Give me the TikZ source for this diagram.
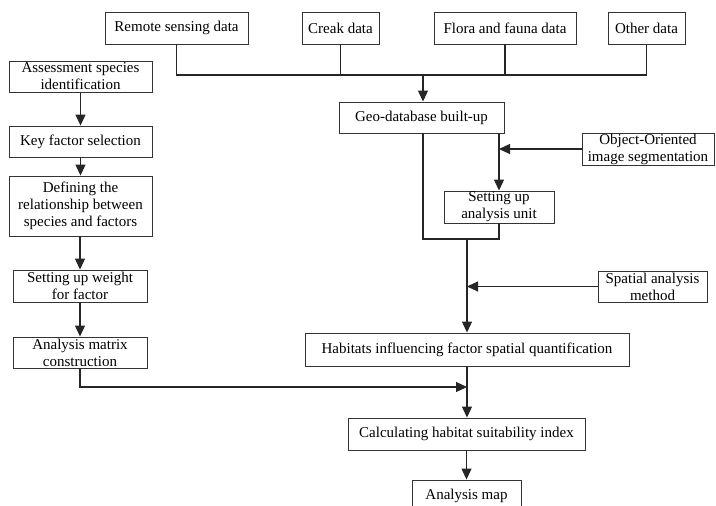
\documentclass[tikz,border=0pt]{standalone}
\usepackage{fontspec}
\setmainfont{Liberation Serif}
\usetikzlibrary{arrows.meta,shadows}
\begin{document}
\begin{tikzpicture}[x=1pt,y=-1pt,
  box/.style={draw=black!80,line width=0.9pt,fill=white,rectangle,inner sep=0pt,align=center,
    font=\fontsize{15}{17}\selectfont,
    drop shadow={shadow xshift=1pt,shadow yshift=-1pt,fill=black!30,opacity=0.5}},
  ln/.style={draw=black!85,line width=1.2pt},
  arr/.style={ln,-{Triangle[width=10pt,length=11pt]}}]
\clip (0,0) rectangle (716,506);
\fill[white] (0,0) rectangle (716,506);
% top row
\node[box,minimum width=143pt,minimum height=32pt] (rs) at (176.5,28) {Remote sensing data};
\node[box,minimum width=77pt,minimum height=32pt] (cd) at (340.5,28) {Creak data};
\node[box,minimum width=142pt,minimum height=32pt] (ff) at (505,28) {Flora and fauna data};
\node[box,minimum width=77pt,minimum height=32pt] (od) at (646.5,28) {Other data};
% right column
\node[box,minimum width=165pt,minimum height=31pt] (geo) at (421.5,117.5) {Geo-database built-up};
\node[box,minimum width=132pt,minimum height=32pt] (oo) at (648,149) {Object-Oriented\\image segmentation};
\node[box,minimum width=110pt,minimum height=32pt] (su) at (499,207) {Setting up\\analysis unit};
\node[box,minimum width=109pt,minimum height=31pt] (sp) at (652.5,286.5) {Spatial analysis\\method};
\node[box,minimum width=324pt,minimum height=33pt] (hab) at (467,349.5) {Habitats influencing factor spatial quantification};
\node[box,minimum width=237pt,minimum height=32pt] (calc) at (466.5,434) {Calculating habitat suitability index};
\node[box,minimum width=109pt,minimum height=32pt] (map) at (466.5,496) {Analysis map};
% left column
\node[box,minimum width=143pt,minimum height=31pt] (as) at (80.5,76.5) {Assessment species\\identification};
\node[box,minimum width=143pt,minimum height=31pt] (kf) at (80.5,141.5) {Key factor selection};
\node[box,minimum width=143pt,minimum height=60pt] (def) at (80.5,206) {Defining the\\relationship between\\species and factors};
\node[box,minimum width=134pt,minimum height=32pt] (wt) at (80,286) {Setting up weight\\for factor};
\node[box,minimum width=134pt,minimum height=31pt] (am) at (80,352.5) {Analysis matrix\\construction};
% coordinates
\coordinate (bus) at (423,75);
\coordinate (loopL) at (423,239);
\coordinate (loopM) at (467,239);
\coordinate (merge) at (467,387);
% top bus
\draw[ln] (rs.south) |- (bus);
\draw[ln] (od.south) |- (bus);
\draw[ln] (cd.south) -- (cd.south |- bus);
\draw[ln] (ff.south) -- (ff.south |- bus);
\draw[arr] (bus) -- (bus |- geo.north);
% geo loop
\draw[arr] (geo.south -| su.north) -- (su.north);
\draw[arr] (oo.west) -- (oo.west -| su.north);
\draw[ln] (su.south) |- (loopL) -- (loopL |- geo.south);
\draw[arr] (loopM) -- (loopM |- hab.north);
\draw[arr] (sp.west) -- (sp.west -| loopM);
\draw[arr] (hab.south -| loopM) -- (loopM |- calc.north);
\draw[arr] (am.south) |- (merge);
\draw[arr] (calc.south) -- (map.north);
% left column
\draw[arr] (as) -- (kf);
\draw[arr] (kf) -- (def);
\draw[arr] (def.south -| wt.north) -- (wt);
\draw[arr] (wt) -- (am);
\end{tikzpicture}
\end{document}
